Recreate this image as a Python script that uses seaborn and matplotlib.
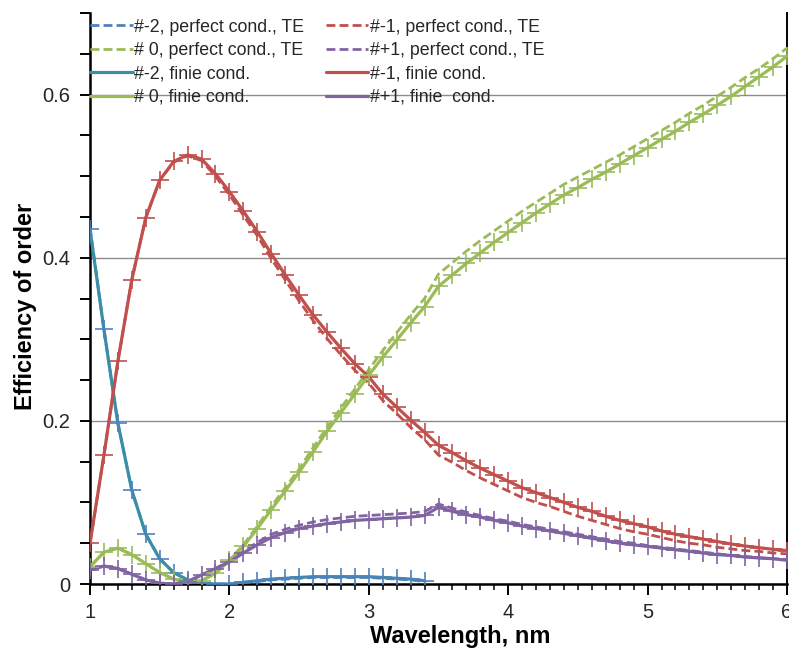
import matplotlib
matplotlib.use("Agg")
import matplotlib.pyplot as plt
import matplotlib.ticker as mticker
from matplotlib import font_manager
import seaborn as sns
import numpy as np

# ---------------- data ----------------
wavelength = [1.0, 1.1, 1.2, 1.3, 1.4, 1.5, 1.6, 1.7, 1.8, 1.9,
              2.0, 2.1, 2.2, 2.3, 2.4, 2.5, 2.6, 2.7, 2.8, 2.9,
              3.0, 3.1, 3.2, 3.3, 3.4, 3.5, 3.6, 3.7, 3.8, 3.9,
              4.0, 4.1, 4.2, 4.3, 4.4, 4.5, 4.6, 4.7, 4.8, 4.9,
              5.0, 5.1, 5.2, 5.3, 5.4, 5.5, 5.6, 5.7, 5.8, 5.9, 6.0]
wavelength_m2 = wavelength[:25]  # order -2 exists only up to ~3.4 nm

# order -2
m2_perfect = [0.437, 0.312, 0.197, 0.115, 0.061, 0.031, 0.014, 0.005, 0.001, 0.000,
              0.000, 0.002, 0.003, 0.005, 0.006, 0.007, 0.008, 0.008, 0.008, 0.008,
              0.008, 0.007, 0.006, 0.005, 0.003]
m2_finite = [0.435, 0.312, 0.197, 0.115, 0.061, 0.031, 0.014, 0.005, 0.001, 0.000,
             0.000, 0.002, 0.004, 0.006, 0.007, 0.008, 0.009, 0.009, 0.009, 0.009,
             0.009, 0.008, 0.007, 0.006, 0.004]

# order -1
m1_perfect = [0.050, 0.158, 0.273, 0.373, 0.449, 0.495, 0.517, 0.525, 0.519, 0.500,
              0.477, 0.452, 0.427, 0.399, 0.373, 0.347, 0.323, 0.301, 0.281, 0.262,
              0.246, 0.225, 0.209, 0.192, 0.177, 0.158, 0.149, 0.139, 0.130, 0.122,
              0.114, 0.106, 0.100, 0.095, 0.089, 0.083, 0.078, 0.073, 0.068, 0.064,
              0.061, 0.057, 0.053, 0.050, 0.048, 0.045, 0.043, 0.041, 0.040, 0.038, 0.037]
m1_finite = [0.050, 0.158, 0.273, 0.373, 0.449, 0.495, 0.518, 0.526, 0.521, 0.503,
             0.481, 0.457, 0.432, 0.405, 0.379, 0.354, 0.330, 0.309, 0.289, 0.270,
             0.254, 0.233, 0.217, 0.201, 0.186, 0.170, 0.161, 0.151, 0.142, 0.134,
             0.126, 0.118, 0.112, 0.106, 0.100, 0.094, 0.089, 0.083, 0.078, 0.074,
             0.070, 0.065, 0.061, 0.058, 0.055, 0.052, 0.049, 0.0465, 0.0445, 0.0425, 0.041]

# order 0
z0_perfect = [0.021, 0.039, 0.044, 0.036, 0.025, 0.014, 0.006, 0.002, 0.004, 0.013,
              0.030, 0.048, 0.071, 0.095, 0.118, 0.141, 0.167, 0.192, 0.216, 0.239,
              0.263, 0.286, 0.308, 0.330, 0.350, 0.380, 0.394, 0.408, 0.421, 0.433,
              0.445, 0.457, 0.468, 0.479, 0.490, 0.499, 0.508, 0.517, 0.526, 0.536,
              0.546, 0.556, 0.566, 0.577, 0.587, 0.598, 0.609, 0.621, 0.632, 0.644, 0.657]
z0_finite = [0.021, 0.039, 0.044, 0.036, 0.025, 0.014, 0.006, 0.002, 0.004, 0.013,
             0.029, 0.046, 0.068, 0.091, 0.114, 0.137, 0.162, 0.187, 0.210, 0.233,
             0.256, 0.278, 0.299, 0.320, 0.340, 0.365, 0.379, 0.393, 0.406, 0.419,
             0.431, 0.443, 0.455, 0.466, 0.477, 0.486, 0.496, 0.505, 0.515, 0.525,
             0.535, 0.545, 0.555, 0.566, 0.576, 0.587, 0.598, 0.610, 0.622, 0.634, 0.647]

# order +1
p1_perfect = [0.017, 0.022, 0.019, 0.012, 0.005, 0.001, 0.000, 0.003, 0.011, 0.019,
              0.028, 0.040, 0.051, 0.061, 0.067, 0.072, 0.076, 0.079, 0.081, 0.083,
              0.084, 0.085, 0.086, 0.087, 0.089, 0.098, 0.093, 0.088, 0.084, 0.080,
              0.077, 0.073, 0.070, 0.067, 0.064, 0.061, 0.058, 0.055, 0.052, 0.050,
              0.047, 0.045, 0.043, 0.041, 0.039, 0.037, 0.035, 0.034, 0.032, 0.031, 0.030]
p1_finite = [0.017, 0.022, 0.019, 0.012, 0.005, 0.001, 0.000, 0.003, 0.011, 0.019,
             0.027, 0.038, 0.048, 0.057, 0.063, 0.068, 0.071, 0.074, 0.076, 0.078,
             0.079, 0.080, 0.081, 0.082, 0.084, 0.094, 0.089, 0.085, 0.082, 0.078,
             0.075, 0.071, 0.068, 0.065, 0.062, 0.059, 0.056, 0.053, 0.050, 0.048,
             0.046, 0.044, 0.042, 0.040, 0.038, 0.036, 0.035, 0.033, 0.032, 0.031, 0.029]

labels_perfect = ["#-2, perfect cond., TE", "#-1, perfect cond., TE",
                  "# 0, perfect cond., TE", "#+1, perfect cond., TE"]
labels_finite = ["#-2, finie cond.", "#-1, finie cond.",
                 "# 0, finie cond.", "#+1, finie  cond."]

x_label = "Wavelength, nm"
y_label = "Efficiency of order"

# ---------------- style ----------------
sns.set_theme(style="white")
plt.rcParams["font.family"] = ["Liberation Sans", "DejaVu Sans"]

available = {f.name for f in font_manager.fontManager.ttflist}
if "Liberation Sans Narrow" in available:
    legend_font = {"family": ["Liberation Sans Narrow", "Liberation Sans"], "size": 15}
else:
    legend_font = {"family": ["Liberation Sans", "DejaVu Sans"], "size": 12.8}

BLUE = "#4F81BD"
TEAL = "#3A8EA6"
RED = "#C0504D"
GREEN = "#9BBB59"
PURPLE = "#8064A2"

fig = plt.figure(figsize=(7.89, 6.48), dpi=100)
ax = fig.add_axes([90 / 789, 64 / 648, 697 / 789, 571 / 648])

dash = (0, (3.2, 1.5))
lw_d = 2.0
lw_s = 2.3

series = [
    (wavelength_m2, m2_perfect, m2_finite, BLUE, TEAL),
    (wavelength, m1_perfect, m1_finite, RED, RED),
    (wavelength, z0_perfect, z0_finite, GREEN, GREEN),
    (wavelength, p1_perfect, p1_finite, PURPLE, PURPLE),
]

for i, (xs, yp, yf, cp, cf) in enumerate(series):
    sns.lineplot(x=xs, y=yp, ax=ax, color=cp, linewidth=lw_d, linestyle=dash,
                 label=labels_perfect[i], zorder=3)
for i, (xs, yp, yf, cp, cf) in enumerate(series):
    sns.lineplot(x=xs, y=yf, ax=ax, color=cf, linewidth=lw_s,
                 label=labels_finite[i], zorder=4)
for i, (xs, yp, yf, cp, cf) in enumerate(series):
    sns.lineplot(x=xs, y=yf, ax=ax, color=cp, linestyle="none", marker="+",
                 markersize=12.5, markeredgewidth=1.2, markeredgecolor=cp,
                 markerfacecolor=cp, zorder=5, legend=False)

# axes limits & ticks
ax.set_xlim(1, 6)
ax.set_ylim(0, 0.7)
ax.xaxis.set_major_locator(mticker.MultipleLocator(1))
ax.xaxis.set_minor_locator(mticker.MultipleLocator(0.1))
ax.yaxis.set_major_locator(mticker.FixedLocator([0, 0.2, 0.4, 0.6]))
ax.yaxis.set_minor_locator(mticker.FixedLocator([0.05, 0.1, 0.15, 0.25, 0.3, 0.35,
                                                 0.45, 0.5, 0.55, 0.65, 0.7]))
ax.xaxis.set_major_formatter(mticker.FuncFormatter(lambda v, p: f"{v:g}"))
ax.yaxis.set_major_formatter(mticker.FuncFormatter(lambda v, p: f"{v:g}"))

ax.tick_params(axis="x", which="major", direction="out", length=8, width=1.4,
               color="black", labelsize=14.5, pad=6, bottom=True)
ax.tick_params(axis="x", which="minor", direction="out", length=4.5, width=1.1,
               color="black", bottom=True)
ax.tick_params(axis="y", which="both", direction="out", length=7, width=1.4,
               color="black", left=True)
ax.tick_params(axis="y", which="major", labelsize=14.5, pad=7)

ax.grid(False)
ax.yaxis.grid(True, which="major", color="#8C8C8C", linewidth=1.0, zorder=0)
ax.set_axisbelow(True)

for side in ["left", "bottom"]:
    ax.spines[side].set_visible(True)
    ax.spines[side].set_color("black")
    ax.spines[side].set_linewidth(1.8)
ax.spines["right"].set_visible(True)
ax.spines["right"].set_color("black")
ax.spines["right"].set_linewidth(1.4)
ax.spines["top"].set_visible(False)

ax.set_xlabel(x_label, fontsize=17, fontweight="bold", color="black")
ax.set_ylabel(y_label, fontsize=17, fontweight="bold", color="black")
ax.xaxis.set_label_coords(0.531, -0.071)
ax.yaxis.set_label_coords(-0.076, 0.487)

# legend: 2 columns, row-wise order like the reference
h, l = ax.get_legend_handles_labels()
lab2h = dict(zip(l, h))
order = [labels_perfect[0], labels_perfect[2], labels_finite[0], labels_finite[2],
         labels_perfect[1], labels_perfect[3], labels_finite[1], labels_finite[3]]
leg = ax.legend([lab2h[k] for k in order], order, ncol=2, loc="upper left",
                bbox_to_anchor=(0.0, 0.99), frameon=False, prop=legend_font,
                borderpad=0, borderaxespad=0, handlelength=2.4, handletextpad=0.1,
                columnspacing=1.2, labelspacing=0.36)

fig.savefig("out.png", dpi=100)
